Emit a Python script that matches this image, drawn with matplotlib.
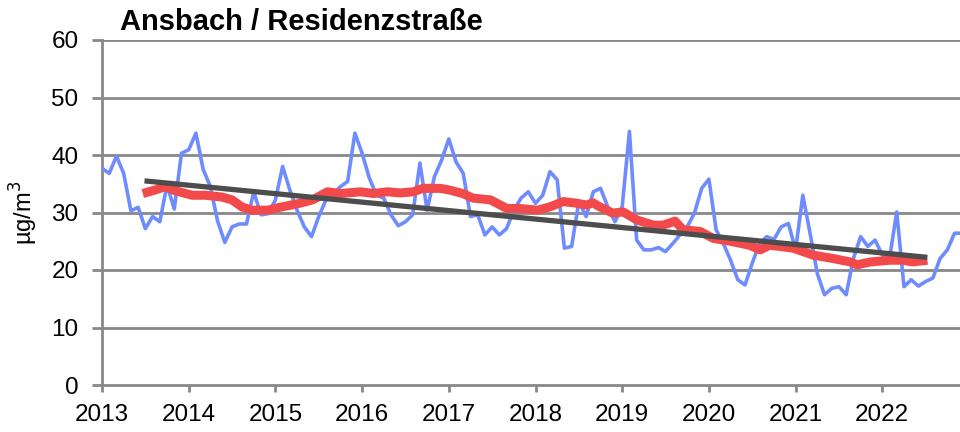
import numpy as np
from matplotlib import pyplot as plt

plt.rcParams['font.family'] = ['Liberation Sans', 'DejaVu Sans']

# monthly values, Jan 2013 .. Dec 2022
months = np.arange(120)
monthly = [37.7, 36.8, 39.8, 36.8, 30.3, 30.9, 27.2, 29.3, 28.4, 34.8, 30.6, 40.3,
           40.9, 43.8, 37.5, 34.5, 28.5, 24.8, 27.5, 28.0, 28.0, 33.6, 29.6, 29.8,
           32.2, 38.0, 33.9, 30.4, 27.5, 25.8, 29.3, 32.2, 33.3, 34.5, 35.4, 43.8,
           40.3, 36.0, 33.0, 32.5, 29.6, 27.7, 28.4, 29.6, 38.6, 30.4, 36.2, 39.1,
           42.8, 38.8, 36.8, 29.3, 29.6, 26.1, 27.5, 26.1, 27.2, 30.4, 32.5, 33.6,
           31.6, 33.0, 37.1, 35.7, 23.8, 24.1, 31.9, 29.3, 33.6, 34.2, 31.0, 28.4,
           31.0, 44.1, 25.2, 23.5, 23.5, 23.9, 23.2, 24.6, 26.1, 27.5, 29.9, 34.2,
           35.8, 27.0, 24.6, 21.7, 18.3, 17.4, 21.2, 24.6, 25.8, 25.3, 27.5, 28.1,
           23.5, 33.0, 26.4, 19.4, 15.7, 16.8, 17.1, 15.7, 22.0, 25.8, 24.1, 25.2,
           22.6, 22.0, 30.1, 17.1, 18.3, 17.2, 18.0, 18.6, 22.0, 23.5, 26.4, 26.4]

# running mean
mean_years = [2013.47, 2013.61, 2013.73, 2013.84, 2014.04, 2014.19, 2014.38, 2014.50,
              2014.61, 2014.73, 2014.91, 2015.05, 2015.28, 2015.43, 2015.60, 2015.75,
              2015.98, 2016.13, 2016.29, 2016.44, 2016.59, 2016.70, 2016.90, 2017.01,
              2017.16, 2017.28, 2017.48, 2017.67, 2017.82, 2018.02, 2018.17, 2018.32,
              2018.48, 2018.59, 2018.66, 2018.74, 2018.89, 2019.01, 2019.17, 2019.36,
              2019.47, 2019.61, 2019.70, 2019.90, 2020.05, 2020.28, 2020.47, 2020.59,
              2020.70, 2020.82, 2020.97, 2021.20, 2021.43, 2021.63, 2021.71, 2021.86,
              2022.09, 2022.24, 2022.35, 2022.52]
mean_vals = [33.3, 33.9, 34.5, 33.8, 33.0, 33.0, 32.7, 32.2,
             31.0, 30.4, 30.4, 30.9, 31.6, 32.2, 33.6, 33.3,
             33.6, 33.3, 33.6, 33.4, 33.6, 34.2, 34.2, 33.9,
             33.3, 32.5, 32.2, 30.7, 30.7, 30.4, 31.0, 31.9,
             31.6, 31.3, 31.7, 31.0, 29.9, 30.1, 28.7, 27.8,
             27.8, 28.5, 27.0, 26.7, 25.5, 24.9, 24.3, 23.5,
             24.3, 24.1, 23.8, 22.6, 22.0, 21.4, 20.9, 21.4,
             21.7, 21.7, 21.4, 21.7]

trend_years = [2013.49, 2022.52]
trend_vals = [35.5, 22.2]

year_ticks = list(range(2013, 2023))
y_ticks = [0, 10, 20, 30, 40, 50, 60]

#%%
fig = plt.figure(figsize=(9.6, 4.32), dpi=100)
ax = fig.add_axes([102/960, 47/432, 867/960, 345/432])

t = 2013 + months / 12
ax.plot(t, monthly, color='#6f8cff', lw=2.6, zorder=3, solid_joinstyle='round')
ax.plot(mean_years, mean_vals, color='#f24a4a', lw=6.5, zorder=4,
        solid_capstyle='butt', solid_joinstyle='round')
ax.plot(trend_years, trend_vals, color='#4d4d4d', lw=3.8, zorder=5, solid_capstyle='butt')

ax.set_xlim(2013, 2023)
ax.set_ylim(0, 60)
ax.set_xticks(year_ticks)
ax.set_yticks(y_ticks)
ax.tick_params(axis='both', labelsize=17.5, color='#888888', width=2)
ax.tick_params(axis='x', length=5, pad=9)
ax.tick_params(axis='y', length=7, pad=10)

for v in y_ticks[1:]:
    ax.axhline(v, color='#888888', lw=2, zorder=1)

for s in ['top', 'right']:
    ax.spines[s].set_visible(False)
for s in ['left', 'bottom']:
    ax.spines[s].set_color('#888888')
    ax.spines[s].set_linewidth(2)

ax.set_ylabel('µg/m$^3$', fontsize=17, labelpad=8)
fig.text(120/960, 1 - 22/432, 'Ansbach / Residenzstraße', fontsize=21,
         fontweight='bold', ha='left', va='center')

fig.savefig('out.png', dpi=100)
